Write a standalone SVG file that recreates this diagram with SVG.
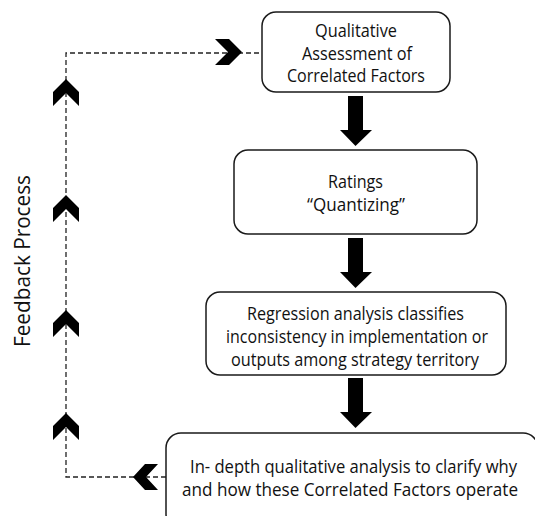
<svg xmlns="http://www.w3.org/2000/svg" width="535" height="516" viewBox="0 0 535 516">
  <style>
    .box { fill: #ffffff; stroke: #1a1a1a; stroke-width: 1.5; }
    .label { font-family: "Open Sans", "Liberation Sans", Arial, sans-serif; font-size: 17.5px; fill: #111111; text-anchor: middle; }
    .side { font-family: "Open Sans", "Liberation Sans", Arial, sans-serif; font-size: 22px; fill: #111111; text-anchor: middle; }
    .dash { fill: none; stroke: #222222; stroke-width: 1.3; stroke-dasharray: 5 3; }
    .solid { fill: #000000; }
  </style>
  <rect width="535" height="516" fill="#ffffff"/>

  <!-- feedback loop: dashed path and chevrons -->
  <g id="connectors">
    <polyline class="dash" points="166,477 66,477 66,53 262,53"/>
    <!-- chevrons along the loop -->
    <polygon class="solid" points="133,477 145,464 158,464 146,477 158,490 145,490"/>
    <polygon class="solid" points="66,413 79,426 79,440 66,427 53,440 53,426"/>
    <polygon class="solid" points="66,310 79,323 79,337 66,324 53,337 53,323"/>
    <polygon class="solid" points="66,195 79,208 79,222 66,209 53,222 53,208"/>
    <polygon class="solid" points="66,79 79,92 79,106 66,93 53,106 53,92"/>
    <polygon class="solid" points="242,52 229,39 215,39 228,52 215,65 229,65"/>
    <!-- block arrows between steps -->
    <polygon class="solid" points="348,96 363,96 363,130 372,130 355.5,146 340,130 348,130"/>
    <polygon class="solid" points="348,238 363,238 363,272 372,272 355.5,288 340,272 348,272"/>
    <polygon class="solid" points="348,378 363,378 363,412 372,412 355.5,428 340,412 348,412"/>
  </g>

  <g id="feedback-label">
    <text class="side" transform="translate(30,261) rotate(-90)" textLength="172" lengthAdjust="spacingAndGlyphs">Feedback Process</text>
  </g>

  <g id="node-qualitative">
    <rect class="box" x="262" y="12" width="188" height="80" rx="14"/>
    <text class="label" x="356" y="37" textLength="82" lengthAdjust="spacingAndGlyphs">Qualitative</text>
    <text class="label" x="357" y="60" textLength="110" lengthAdjust="spacingAndGlyphs">Assessment of</text>
    <text class="label" x="356" y="82" textLength="138" lengthAdjust="spacingAndGlyphs">Correlated Factors</text>
  </g>

  <g id="node-ratings">
    <rect class="box" x="234" y="150" width="243" height="84" rx="14"/>
    <text class="label" x="355.5" y="188" textLength="55" lengthAdjust="spacingAndGlyphs">Ratings</text>
    <text class="label" x="356" y="211" textLength="98" lengthAdjust="spacingAndGlyphs">“Quantizing”</text>
  </g>

  <g id="node-regression">
    <rect class="box" x="206" y="292" width="300" height="83" rx="14"/>
    <text class="label" x="355.5" y="320" textLength="217" lengthAdjust="spacingAndGlyphs">Regression analysis classifies</text>
    <text class="label" x="357" y="343" textLength="262" lengthAdjust="spacingAndGlyphs">inconsistency in implementation or</text>
    <text class="label" x="355" y="366" textLength="248" lengthAdjust="spacingAndGlyphs">outputs among strategy territory</text>
  </g>

  <g id="node-in-depth">
    <rect class="box" x="166" y="433" width="372" height="96" rx="15"/>
    <text class="label" x="353.5" y="473" textLength="327" lengthAdjust="spacingAndGlyphs">In- depth qualitative analysis to clarify why</text>
    <text class="label" x="350" y="496" textLength="336" lengthAdjust="spacingAndGlyphs">and how these Correlated Factors operate</text>
  </g>
</svg>
